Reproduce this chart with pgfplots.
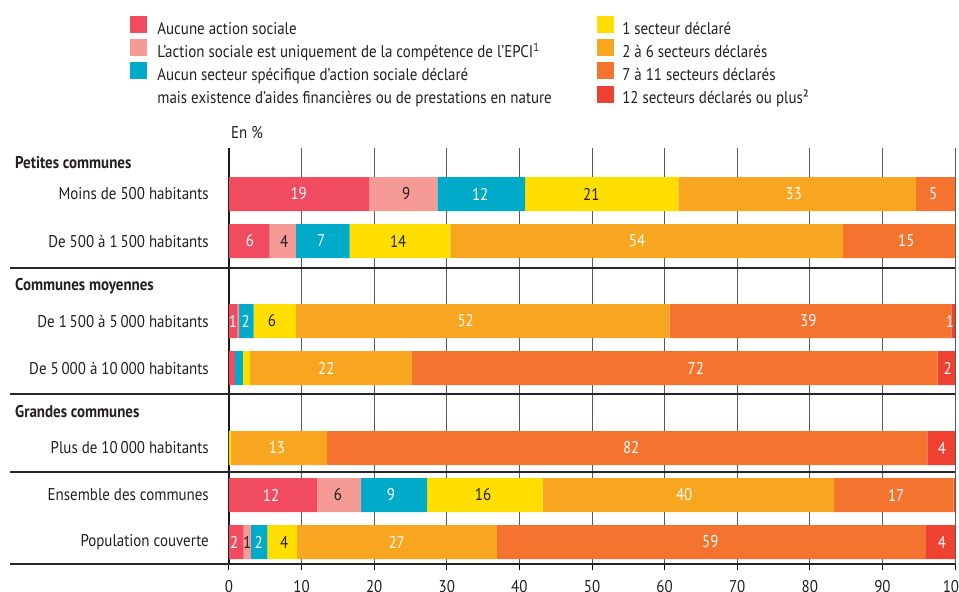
\documentclass[border=0pt]{standalone}
\usepackage{pgfplots}
\usepackage{pgfplotstable}
\pgfplotsset{compat=1.18}
\usepackage{fontspec}
\setmainfont{PT Sans}[FakeStretch=0.88]
\definecolor{cA}{HTML}{F04B5F}
\definecolor{cB}{HTML}{F59A95}
\definecolor{cC}{HTML}{00ABCA}
\definecolor{cD}{HTML}{FFDE00}
\definecolor{cE}{HTML}{F8A61F}
\definecolor{cF}{HTML}{F3732F}
\definecolor{cG}{HTML}{EE412F}
\definecolor{gridc}{HTML}{5A5A5A}
\definecolor{txt}{HTML}{231F20}

\pgfplotstableread{
y A B C D E F G
194 19.3 9.4 12.1 21.1 32.7 5.4 0.0
241 5.6 3.6 7.4 13.9 54.1 15.4 0.0
321 1.2 0.2 2.0 5.8 51.5 38.8 0.5
368 0.8 0.0 1.1 1.0 22.3 72.4 2.4
448 0.0 0.0 0.0 0.3 13.2 82.7 3.8
495 12.1 6.1 9.1 15.9 40.1 16.5 0.2
542 2.0 1.0 2.3 4.1 27.5 59.1 4.0
}\bars

\pgfplotstableread{
x y lab
9.6 194 19
34.6 194 12
77.8 194 33
97.0 194 5
2.9 241 6
12.7 241 7
56.2 241 54
93.3 241 15
0.55 321 1
2.3 321 2
32.6 321 52
79.8 321 39
99.3 321 1
13.4 368 22
64.3 368 72
99.0 368 2
6.6 448 13
55.4 448 82
98.2 448 4
5.8 495 12
22.3 495 9
62.7 495 40
91.9 495 17
0.7 542 2
4.1 542 2
23.1 542 27
66.3 542 59
98.2 542 4
}\whitelabs

\pgfplotstableread{
x y lab
24.4 194 9
49.9 194 21
7.6 241 4
23.3 241 14
5.9 321 6
15.0 495 6
35.0 495 16
2.5 542 1
7.6 542 4
}\darklabs

\pgfplotsset{
  sq/.style={legend image code/.code={\fill[#1] (0pt,-2pt) rectangle (16pt,14pt);}},
  common/.style={
    at={(229pt,28pt)}, anchor=south west,
    scale only axis, width=726pt, height=416pt,
    xmin=0, xmax=100, ymin=148, ymax=564, y dir=reverse,
  },
}

\begin{document}
\begin{tikzpicture}[font=\fontsize{17}{20}\selectfont, text=txt]
\useasboundingbox (0,0) rectangle (959pt,592pt);
\begin{axis}[common,
  xbar stacked, bar width=34pt,
  axis line style={draw=none},
  xmajorgrids, grid style={gridc, line width=1pt},
  xtick={0,10,...,100}, xtick pos=left, xtick align=outside,
  major tick length=6pt,
  xtick style={draw=black, line width=1pt},
  ytick={194,241,321,368,448,495,542},
  yticklabels={Moins de 500 habitants, De 500 à 1\,500 habitants, De 1\,500 à 5\,000 habitants, De 5\,000 à 10\,000 habitants, Plus de 10\,000 habitants, Ensemble des communes, Population couverte},
  ytick style={draw=none},
  yticklabel style={anchor=east, inner sep=0pt, xshift=-20pt, text=txt},
  xticklabel style={inner sep=0pt, yshift=-10pt, text=txt},
  /pgf/number format/assume math mode=true,
  clip=false,
]
\addplot[fill=cA, draw=none] table[x=A, y=y] {\bars};
\addplot[fill=cB, draw=none] table[x=B, y=y] {\bars};
\addplot[fill=cC, draw=none] table[x=C, y=y] {\bars};
\addplot[fill=cD, draw=none] table[x=D, y=y] {\bars};
\addplot[fill=cE, draw=none] table[x=E, y=y] {\bars};
\addplot[fill=cF, draw=none] table[x=F, y=y] {\bars};
\addplot[fill=cG, draw=none] table[x=G, y=y] {\bars};
\draw[line width=1.3pt, black!85] ([xshift=-219pt]axis cs:0,564) -- (axis cs:100,564);
\draw[line width=1.3pt, black!85] ([xshift=-219pt]axis cs:0,268) -- (axis cs:100,268);
\draw[line width=1.3pt, black!85] ([xshift=-219pt]axis cs:0,394) -- (axis cs:100,394);
\draw[line width=1.3pt, black!85] ([xshift=-219pt]axis cs:0,472) -- (axis cs:100,472);
\draw[line width=2pt, black!90] (axis cs:0,148) -- (axis cs:0,564);
\node[anchor=west, inner sep=0pt] at ([xshift=2pt, yshift=15pt]axis cs:0,148) {En \%};
\node[anchor=west, inner sep=0pt, font=\fontsize{17}{20}\selectfont\bfseries] at ([xshift=-214pt]axis cs:0,163) {Petites communes};
\node[anchor=west, inner sep=0pt, font=\fontsize{17}{20}\selectfont\bfseries] at ([xshift=-214pt]axis cs:0,286) {Communes moyennes};
\node[anchor=west, inner sep=0pt, font=\fontsize{17}{20}\selectfont\bfseries] at ([xshift=-214pt]axis cs:0,412) {Grandes communes};
\end{axis}

\begin{axis}[common, hide axis, clip=false,
  legend columns=2,
  legend cell align=left,
  legend style={at={(axis description cs:-0.1364,1.3173)}, anchor=north west,
    draw=none, fill=none, inner sep=0pt, outer sep=0pt,
    font=\fontsize{17}{20}\selectfont, text=txt,
    row sep=1pt,
    nodes={inner sep=0pt, text height=12pt, text depth=4pt},
    /tikz/column 1/.style={column sep=11pt},
    /tikz/column 2/.style={column sep=45pt},
    /tikz/column 3/.style={column sep=9pt},
  },
]
\addlegendimage{sq=cA}
\addlegendimage{sq=cD}
\addlegendimage{sq=cB}
\addlegendimage{sq=cE}
\addlegendimage{sq=cC}
\addlegendimage{sq=cF}
\addlegendimage{empty legend}
\addlegendimage{sq=cG}
\addplot[forget plot, only marks, mark=none, nodes near coords, point meta=explicit symbolic,
  nodes near coords align=center,
  every node near coord/.append style={text=white, inner sep=0pt, anchor=center, font=\fontsize{17}{20}\selectfont}]
  table[x=x, y=y, meta=lab] {\whitelabs};
\addplot[forget plot, only marks, mark=none, nodes near coords, point meta=explicit symbolic,
  nodes near coords align=center,
  every node near coord/.append style={text=txt, inner sep=0pt, anchor=center, font=\fontsize{17}{20}\selectfont}]
  table[x=x, y=y, meta=lab] {\darklabs};
\legend{Aucune action sociale, 1 secteur déclaré,
  L'action sociale est uniquement de la compétence de l'EPCI\textsuperscript{1}, 2 à 6 secteurs déclarés,
  Aucun secteur spécifique d'action sociale déclaré, 7 à 11 secteurs déclarés,
  mais existence d'aides financières ou de prestations en nature, 12 secteurs déclarés ou plus²}
\end{axis}
\end{tikzpicture}
\end{document}
